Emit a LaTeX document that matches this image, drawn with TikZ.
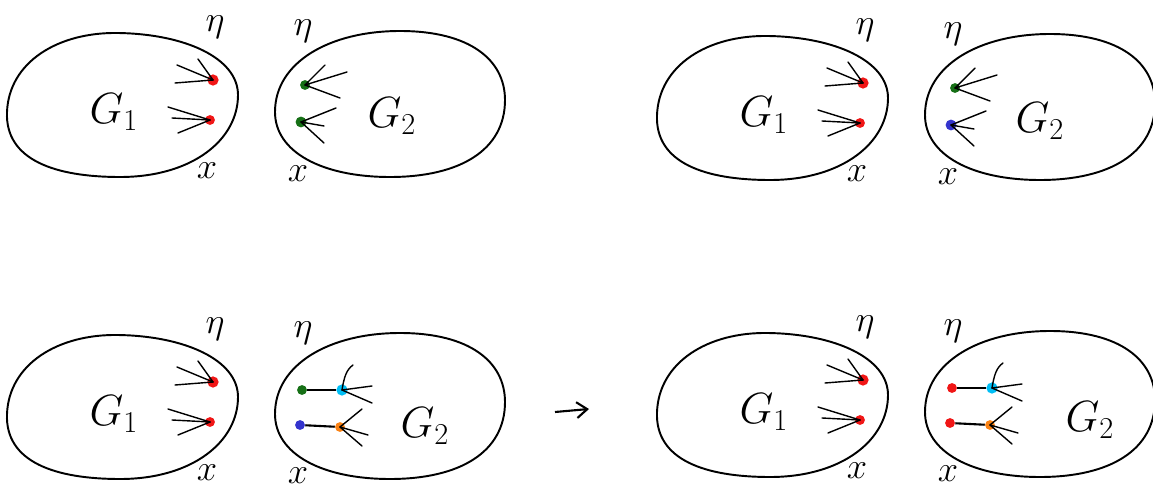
\documentclass[tikz,border=0pt]{standalone}
\usepackage{tikz}
\usetikzlibrary{arrows.meta, positioning, calc}
\definecolor{dotred}{RGB}{240, 22, 22}
\definecolor{dotgreen}{RGB}{22, 112, 22}
\definecolor{dotblue}{RGB}{52, 52, 205}
\definecolor{dotcyan}{RGB}{0, 190, 245}
\definecolor{dotorange}{RGB}{250, 130, 20}

\begin{document}
\begin{tikzpicture}[x=0.02cm, y=-0.02cm,
    blob/.style={line width=1.1pt, line join=round},
    stub/.style={line width=0.8pt, line cap=round},
    edge/.style={line width=1.2pt},
    dot/.style={circle, fill=#1, inner sep=0pt, minimum size=5.6pt},
    glab/.style={font=\fontsize{24}{28}\selectfont},
    lab/.style={font=\fontsize{20}{24}\selectfont, inner sep=1pt}]
    \useasboundingbox (0,0) rectangle (1153,490);

    % Panels: G1 blob, G2 blob and the labels
    \foreach \dx/\dy/\gx/\gy/\p in {0/0/392/116/a, 650/3/390/118/b, 0/302/425/124/c, 650/300/440/120/d}{
      \begin{scope}[shift={(\dx,\dy)}]
        \draw[blob] (7,112) .. controls (9,62) and (58,32) .. (118,33)
            .. controls (185,34) and (238,58) .. (238,95)
            .. controls (238,140) and (192,177) .. (120,177)
            .. controls (55,177) and (5,160) .. cycle;
        \draw[blob] (275,112) .. controls (275,62) and (330,31) .. (400,31)
            .. controls (470,31) and (505,60) .. (505,100)
            .. controls (505,150) and (460,177) .. (390,177)
            .. controls (322,177) and (275,152) .. cycle;
        \node[glab] (G1\p) at (114,112) {$G_1$};
        \node[glab] (G2\p) at (\gx,\gy) {$G_2$};
        \node[lab] (eta1\p) at (215,27) {$\eta$};
        \node[lab] (x1\p) at (207,171) {$x$};
        \node[lab] (eta2\p) at (303,31) {$\eta$};
        \node[lab] (x2\p) at (298,174) {$x$};
        % red half-edges of G1
        \node[dot=dotred, minimum size=6.4pt] (r1\p) at (213,80) {};
        \node[dot=dotred] (r2\p) at (210,120) {};
        \foreach \ex/\ey in {-36/-15, -38/3, -15/-21}
          \draw[stub] (r1\p.center) -- ++(\ex,\ey);
        \foreach \ex/\ey in {-42/-13, -38/-2, -32/13}
          \draw[stub] (r2\p.center) -- ++(\ex,\ey);
      \end{scope}
    }

    % Top panels: half-edges of G2
    \foreach \dx/\dy/\col/\p in {0/0/dotgreen/a, 650/3/dotblue/b}{
      \begin{scope}[shift={(\dx,\dy)}]
        \node[dot=dotgreen] (s1\p) at (305,85) {};
        \node[dot=\col, minimum size=6.2pt] (s2\p) at (301,122) {};
        \foreach \ex/\ey in {42/-13, 35/13, 20/-20}
          \draw[stub] (s1\p.center) -- ++(\ex,\ey);
        \foreach \ex/\ey in {35/-14, 23/4, 23/21}
          \draw[stub] (s2\p.center) -- ++(\ex,\ey);
      \end{scope}
    }

    % Bottom panels: matched edges inside G2
    \foreach \dx/\dy/\cola/\colb/\p in {0/302/dotgreen/dotblue/c, 650/300/dotred/dotred/d}{
      \begin{scope}[shift={(\dx,\dy)}]
        \node[dot=\cola] (s1\p) at (302,88) {};
        \node[dot=\colb] (s2\p) at (300,123) {};
        \node[dot=dotcyan, minimum size=6.4pt] (t1\p) at (342,88) {};
        \node[dot=dotorange] (t2\p) at (340,125) {};
        \draw[edge] (s1\p) -- (t1\p);
        \draw[edge] (s2\p) -- (t2\p);
        \draw[stub] (t1\p.center) .. controls (344,76) and (346,68) .. (353,63);
        \foreach \ex/\ey in {30/-4, 30/13}
          \draw[stub] (t1\p.center) -- ++(\ex,\ey);
        \foreach \ex/\ey in {22/-18, 28/8, 22/19}
          \draw[stub] (t2\p.center) -- ++(\ex,\ey);
      \end{scope}
    }

    % Arrow between bottom panels
    \coordinate (arrs) at (555,412);
    \coordinate (arre) at (589,409);
    \draw[line width=1.2pt, -{Straight Barb[length=6pt, width=9pt]}] (arrs) -- (arre);
\end{tikzpicture}
\end{document}
